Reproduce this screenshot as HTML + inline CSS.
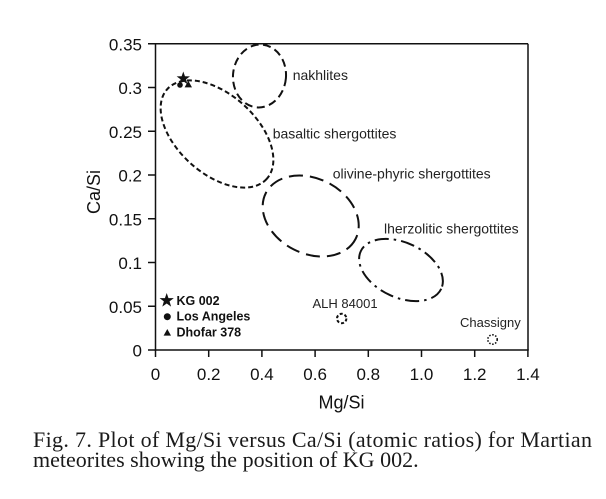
<!DOCTYPE html>
<html>
<head>
<meta charset="utf-8">
<style>
  html, body { margin: 0; padding: 0; background: #ffffff; }
  body { width: 606px; height: 499px; overflow: hidden; }
  svg { display: block; }
</style>
</head>
<body>
<svg width="606" height="499" viewBox="0 0 606 499" xmlns="http://www.w3.org/2000/svg">
  <rect x="0" y="0" width="606" height="499" fill="#ffffff"/>

  <!-- plot frame -->
  <g stroke="#111" stroke-width="1.5" fill="none">
    <line x1="155.5" y1="43.75" x2="528" y2="43.75"/>
    <line x1="528" y1="43.75" x2="528" y2="350"/>
    <line x1="155.5" y1="43" x2="155.5" y2="350.75"/>
    <line x1="154.75" y1="350" x2="528.75" y2="350"/>
  </g>

  <!-- y ticks -->
  <g stroke="#111" stroke-width="1.5">
    <line x1="148" y1="350" x2="155.5" y2="350"/>
    <line x1="148" y1="306.25" x2="155.5" y2="306.25"/>
    <line x1="148" y1="262.5" x2="155.5" y2="262.5"/>
    <line x1="148" y1="218.75" x2="155.5" y2="218.75"/>
    <line x1="148" y1="175" x2="155.5" y2="175"/>
    <line x1="148" y1="131.25" x2="155.5" y2="131.25"/>
    <line x1="148" y1="87.5" x2="155.5" y2="87.5"/>
    <line x1="148" y1="43.75" x2="155.5" y2="43.75"/>
  </g>
  <!-- x ticks -->
  <g stroke="#111" stroke-width="1.5">
    <line x1="155.5" y1="350" x2="155.5" y2="357"/>
    <line x1="208.7" y1="350" x2="208.7" y2="357"/>
    <line x1="261.9" y1="350" x2="261.9" y2="357"/>
    <line x1="315.1" y1="350" x2="315.1" y2="357"/>
    <line x1="368.3" y1="350" x2="368.3" y2="357"/>
    <line x1="421.5" y1="350" x2="421.5" y2="357"/>
    <line x1="474.7" y1="350" x2="474.7" y2="357"/>
    <line x1="527.9" y1="350" x2="527.9" y2="357"/>
  </g>

  <!-- y tick labels -->
  <g font-family="'Liberation Sans', Arial, sans-serif" font-size="17" fill="#111" text-anchor="end">
    <text x="142" y="356.5">0</text>
    <text x="142" y="312.75">0.05</text>
    <text x="142" y="269">0.1</text>
    <text x="142" y="225.25">0.15</text>
    <text x="142" y="181.5">0.2</text>
    <text x="142" y="137.75">0.25</text>
    <text x="142" y="94">0.3</text>
    <text x="142" y="50.25">0.35</text>
  </g>
  <!-- x tick labels -->
  <g font-family="'Liberation Sans', Arial, sans-serif" font-size="17" fill="#111" text-anchor="middle">
    <text x="155.5" y="380">0</text>
    <text x="208.7" y="380">0.2</text>
    <text x="261.9" y="380">0.4</text>
    <text x="315.1" y="380">0.6</text>
    <text x="368.3" y="380">0.8</text>
    <text x="421.5" y="380">1.0</text>
    <text x="474.7" y="380">1.2</text>
    <text x="527.9" y="380">1.4</text>
  </g>

  <!-- axis titles -->
  <text x="341.5" y="408.5" font-family="'Liberation Sans', Arial, sans-serif" font-size="18" fill="#111" text-anchor="middle">Mg/Si</text>
  <text transform="translate(100,192) rotate(-90)" font-family="'Liberation Sans', Arial, sans-serif" font-size="18" fill="#111" text-anchor="middle">Ca/Si</text>

  <!-- field ellipses -->
  <g fill="none" stroke="#111" stroke-width="2">
    <!-- nakhlites -->
    <ellipse cx="259.5" cy="76" rx="26.5" ry="31.5" transform="rotate(5 259.5 76)" stroke-dasharray="8 4.5"/>
    <!-- basaltic shergottites -->
    <ellipse cx="217" cy="134" rx="67" ry="39.5" transform="rotate(42 217 134)" stroke-dasharray="5 3"/>
    <!-- olivine-phyric shergottites -->
    <ellipse cx="310.7" cy="216" rx="50.4" ry="37.5" transform="rotate(27 310.7 216)" stroke-dasharray="14 7"/>
    <!-- lherzolitic shergottites -->
    <ellipse cx="401" cy="270" rx="44.4" ry="27.4" transform="rotate(25 401 270)" stroke-dasharray="14 5 2.5 5"/>
    <!-- ALH 84001 -->
    <circle cx="341.7" cy="318.5" r="4.7" stroke-dasharray="3 2"/>
    <!-- Chassigny -->
    <circle cx="492.5" cy="339.5" r="4.7" stroke-width="1.6" stroke-dasharray="1.5 1.6"/>
  </g>

  <!-- field labels -->
  <g font-family="'Liberation Sans', Arial, sans-serif" font-size="14" fill="#222">
    <text x="292.7" y="80">nakhlites</text>
    <text x="272.7" y="138.3">basaltic shergottites</text>
    <text x="332.7" y="178.3">olivine-phyric shergottites</text>
    <text x="384" y="233.3">lherzolitic shergottites</text>
  </g>
  <g font-family="'Liberation Sans', Arial, sans-serif" font-size="13" fill="#222">
    <text x="312.5" y="308">ALH 84001</text>
    <text x="460" y="327">Chassigny</text>
  </g>

  <!-- data markers -->
  <circle cx="180" cy="85" r="2.8" fill="#111"/>
  <polygon points="188.3,80.8 184.6,87.4 192,87.4" fill="#111"/>
  <path transform="translate(183.3,78.5)" fill="#111"
        d="M0,-7 L1.65,-2.27 L6.66,-2.16 L2.66,0.87 L4.11,5.66 L0,2.8 L-4.11,5.66 L-2.66,0.87 L-6.66,-2.16 L-1.65,-2.27 Z"/>

  <!-- legend -->
  <path transform="translate(166.7,300.5)" fill="#111"
        d="M0,-7.5 L1.77,-2.43 L7.13,-2.32 L2.85,0.93 L4.41,6.07 L0,3 L-4.41,6.07 L-2.85,0.93 L-7.13,-2.32 L-1.77,-2.43 Z"/>
  <circle cx="167.3" cy="316.7" r="3.5" fill="#111"/>
  <polygon points="167.3,329 163.6,335.6 171,335.6" fill="#111"/>
  <g font-family="'Liberation Sans', Arial, sans-serif" font-size="12.5" font-weight="bold" fill="#111">
    <text x="176.5" y="305">KG 002</text>
    <text x="176.5" y="320.5">Los Angeles</text>
    <text x="176.5" y="336.5">Dhofar 378</text>
  </g>

  <!-- caption -->
  <g font-family="'Liberation Serif', 'Times New Roman', serif" font-size="22" fill="#1a1a1a">
    <text x="33" y="447" textLength="559" lengthAdjust="spacing">Fig. 7. Plot of Mg/Si versus Ca/Si (atomic ratios) for Martian</text>
    <text x="33" y="467">meteorites showing the position of KG 002.</text>
  </g>
</svg>
</body>
</html>
